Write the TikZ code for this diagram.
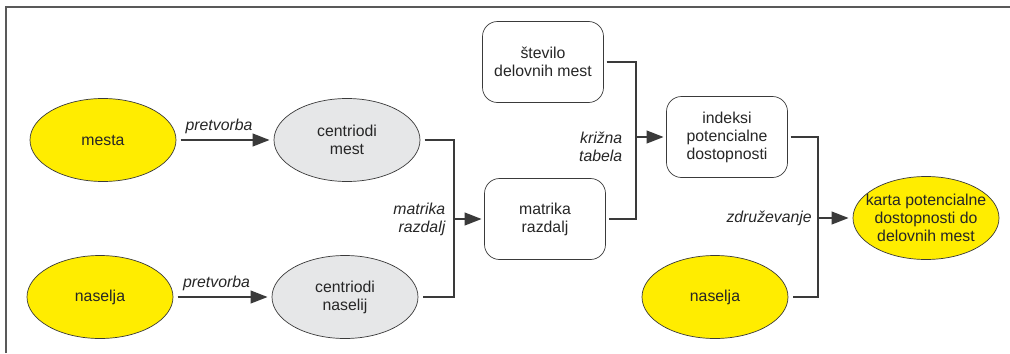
\documentclass[tikz,border=0pt]{standalone}
\usepackage{fontspec}
\setmainfont{Liberation Sans}
\usetikzlibrary{shapes.geometric,arrows.meta}

\definecolor{rumena}{HTML}{FFED00}
\definecolor{siva}{HTML}{E6E7E8}
\definecolor{crta}{HTML}{3A3A3A}

\tikzset{
  sloj/.style={ellipse, draw=crta, fill=rumena, minimum width=2.92cm, minimum height=1.66cm, inner sep=0pt, outer sep=0.09cm},
  centroid/.style={sloj, fill=siva},
  tabela/.style={rectangle, rounded corners=0.3cm, draw=crta, minimum width=2.42cm, minimum height=1.62cm, outer sep=0.06cm},
  opis/.style={font=\fontsize{9pt}{10.2pt}\selectfont\itshape, text=black!85},
  puscica/.style={draw=crta, line width=0.7pt, -{Triangle[length=0.34cm,width=0.26cm]}},
  povezava/.style={draw=crta, line width=0.7pt}
}

\begin{document}
\begin{tikzpicture}[font=\fontsize{9pt}{10.2pt}\selectfont, every node/.append style={align=center, text=black!85}]
\useasboundingbox (0,0) rectangle (20.2,7.06);
\draw[black!65, line width=0.6pt] (0.12,0) -- (0.12,6.92) -- (20.2,6.92);

% vhodni sloji in centroidi
\node[sloj] (mesta) at (2.06,4.26) {mesta};
\node[sloj] (naseljaA) at (2.00,1.12) {naselja};
\node[centroid] (centMest) at (6.94,4.26) {centriodi\\mest};
\node[centroid] (centNas) at (6.90,1.12) {centriodi\\naselij};

\draw[puscica] (mesta.east) -- (centMest.west) node[opis, midway, above, xshift=-0.12cm] (pretA) {pretvorba};
\draw[puscica] (naseljaA.east) -- (centNas.west) node[opis, midway, above, xshift=-0.12cm] (pretB) {pretvorba};

% tabele
\node[tabela] (stevilo) at (10.86,5.82) {število\\delovnih mest};
\node[tabela] (matrika) at (10.90,2.68) {matrika\\razdalj};
\node[tabela] (indeksi) at (14.54,4.32) {indeksi\\potencialne\\dostopnosti};

\coordinate (jA) at (9.08,2.68);
\draw[povezava] (centMest.east) -| (jA) |- (centNas.east);
\draw[puscica] (jA) -- (matrika.west);
\node[opis, left=0.05cm, align=right] (lblRazdalj) at (jA) {matrika\\razdalj};

\coordinate (jB) at (12.72,4.32);
\draw[povezava] (stevilo.east) -| (jB) |- (matrika.east);
\draw[puscica] (jB) -- (indeksi.west);
\node[opis, left=0.15cm, align=right] (lblKrizna) at ([yshift=-0.2cm]jB) {križna\\tabela};

% rezultat
\node[sloj] (naseljaB) at (14.30,1.12) {naselja};
\node[sloj, inner xsep=-0.28cm] (karta) at (18.52,2.70) {karta potencialne\\dostopnosti do\\delovnih mest};

\coordinate (jC) at (16.36,2.70);
\draw[povezava] (indeksi.east) -| (jC) |- (naseljaB.east);
\draw[puscica] (jC) -- (karta.west);
\node[opis, left, align=right] (lblZdruz) at (jC) {združevanje};

\end{tikzpicture}
\end{document}
